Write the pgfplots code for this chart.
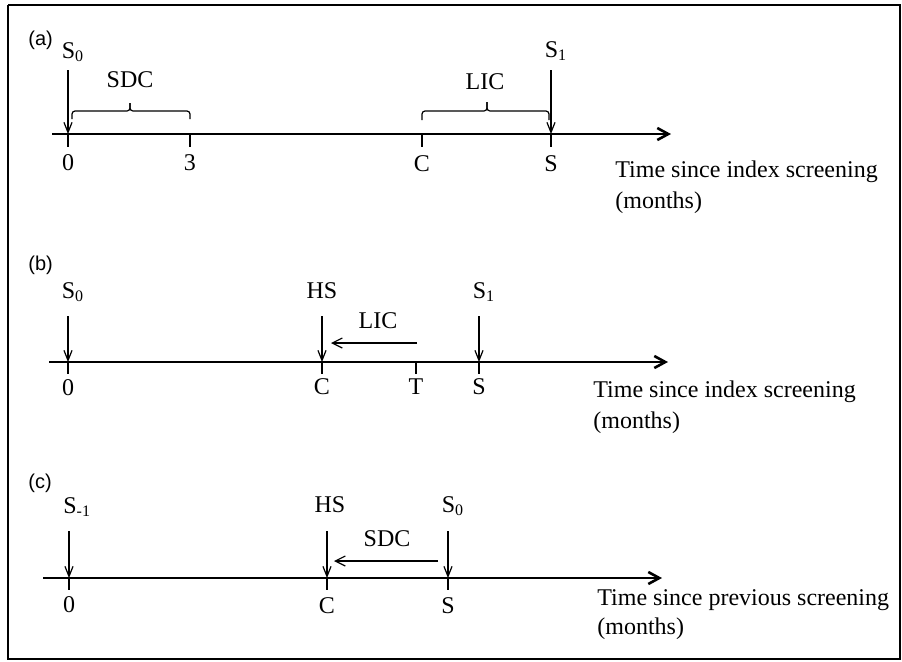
\documentclass[border=0pt]{standalone}
\usepackage{fontspec}
\setmainfont{Liberation Serif}
\newfontfamily\sansf{Liberation Sans}
\usepackage{pgfplots}
\pgfplotsset{compat=1.18}
\usetikzlibrary{arrows.meta}
\begin{document}
\begin{tikzpicture}
\begin{axis}[
  x=0.5pt, y=0.5pt, y dir=reverse,
  xmin=0, xmax=902, ymin=0, ymax=661,
  hide axis, clip=false, scale only axis,
]
\pgfplotsset{
  every axis plot/.append style={line cap=butt},
}
\tikzset{
  lab/.style={anchor=base, font=\fontsize{12}{14}\selectfont, inner sep=0pt},
  labw/.style={anchor=base west, font=\fontsize{12}{14}\selectfont, inner sep=0pt},
  pan/.style={anchor=base west, font=\sansf\fontsize{10}{12}\selectfont, inner sep=0pt},
}
% bounding box
\addplot[draw=none] coordinates {(0,0) (902,661)};
% frame
\addplot[black, line width=1.3pt] coordinates {(8,5) (900,5) (900,659) (8,659) (8,5)};

%%%%%%%% panel (a)
\addplot[black, line width=1.3pt, -{Straight Barb[length=5.5pt,width=6pt]}] coordinates {(52,134) (671,134)};
\addplot[black, line width=0.6pt, -{Straight Barb[length=5pt,width=4pt]}] coordinates {(68,70) (68,134)};
\addplot[black, line width=0.6pt, -{Straight Barb[length=5pt,width=4pt]}] coordinates {(551,70) (551,134)};
\addplot[black, line width=0.8pt] coordinates {(68,134) (68,147)};
\addplot[black, line width=0.8pt] coordinates {(190,134) (190,147)};
\addplot[black, line width=0.8pt] coordinates {(422,134) (422,147)};
\addplot[black, line width=0.8pt] coordinates {(551,134) (551,147)};
% SDC bracket
\addplot[black, line width=0.6pt, rounded corners=1.5pt] coordinates {(72,119) (72,111) (130,111) (130,103)};
\addplot[black, line width=0.6pt, rounded corners=1.5pt] coordinates {(190,119) (190,111) (130,111) (130,103)};
% LIC bracket
\addplot[black, line width=0.6pt, rounded corners=1.5pt] coordinates {(422,120) (422,111) (487,111) (487,102)};
\addplot[black, line width=0.6pt, rounded corners=1.5pt] coordinates {(549,120) (549,111) (487,111) (487,102)};
\node[pan] at (axis cs:28,45) {(a)};
\node[labw] at (axis cs:61.5,58) {S\textsubscript{0}};
\node[labw] at (axis cs:544.5,57) {S\textsubscript{1}};
\node[lab] at (axis cs:130,87) {SDC};
\node[lab] at (axis cs:485,89) {LIC};
\node[lab] at (axis cs:68,170) {0};
\node[lab] at (axis cs:190,170) {3};
\node[lab] at (axis cs:422,171) {C};
\node[lab] at (axis cs:551,171) {S};
\node[labw] at (axis cs:615,177) {Time since index screening};
\node[labw] at (axis cs:615,208) {(months)};

%%%%%%%% panel (b)
\addplot[black, line width=1.3pt, -{Straight Barb[length=5.5pt,width=6pt]}] coordinates {(49,362) (668,362)};
\addplot[black, line width=0.6pt, -{Straight Barb[length=5pt,width=4pt]}] coordinates {(68,316) (68,362)};
\addplot[black, line width=0.6pt, -{Straight Barb[length=5pt,width=4pt]}] coordinates {(322,316) (322,362)};
\addplot[black, line width=0.6pt, -{Straight Barb[length=5pt,width=4pt]}] coordinates {(479,316) (479,362)};
\addplot[black, line width=0.6pt, -{Straight Barb[length=5pt,width=5pt]}] coordinates {(417,343) (331,343)};
\addplot[black, line width=0.8pt] coordinates {(68,362) (68,374)};
\addplot[black, line width=0.8pt] coordinates {(322,362) (322,374)};
\addplot[black, line width=0.8pt] coordinates {(416,362) (416,374)};
\addplot[black, line width=0.8pt] coordinates {(479,362) (479,374)};
\node[pan] at (axis cs:28,270) {(b)};
\node[labw] at (axis cs:61.5,298) {S\textsubscript{0}};
\node[lab] at (axis cs:322,298) {HS};
\node[labw] at (axis cs:472.5,298) {S\textsubscript{1}};
\node[lab] at (axis cs:378,328) {LIC};
\node[lab] at (axis cs:68,395) {0};
\node[lab] at (axis cs:322,394) {C};
\node[lab] at (axis cs:416,394) {T};
\node[lab] at (axis cs:479,394) {S};
\node[labw] at (axis cs:593,397) {Time since index screening};
\node[labw] at (axis cs:593,428) {(months)};

%%%%%%%% panel (c)
\addplot[black, line width=1.3pt, -{Straight Barb[length=5.5pt,width=6pt]}] coordinates {(43,578) (662,578)};
\addplot[black, line width=0.6pt, -{Straight Barb[length=5pt,width=4pt]}] coordinates {(69,531) (69,578)};
\addplot[black, line width=0.6pt, -{Straight Barb[length=5pt,width=4pt]}] coordinates {(327,531) (327,578)};
\addplot[black, line width=0.6pt, -{Straight Barb[length=5pt,width=4pt]}] coordinates {(448,531) (448,578)};
\addplot[black, line width=0.6pt, -{Straight Barb[length=5pt,width=5pt]}] coordinates {(438,561) (334,561)};
\addplot[black, line width=0.8pt] coordinates {(69,578) (69,590)};
\addplot[black, line width=0.8pt] coordinates {(327,578) (327,590)};
\addplot[black, line width=0.8pt] coordinates {(448,578) (448,590)};
\node[pan] at (axis cs:28,488) {(c)};
\node[labw] at (axis cs:63,513) {S\textsubscript{-1}};
\node[lab] at (axis cs:330,512) {HS};
\node[labw] at (axis cs:441.5,512) {S\textsubscript{0}};
\node[lab] at (axis cs:387,546) {SDC};
\node[lab] at (axis cs:69,612) {0};
\node[lab] at (axis cs:327,613) {C};
\node[lab] at (axis cs:448,613) {S};
\node[labw] at (axis cs:597,605) {Time since previous screening};
\node[labw] at (axis cs:597,634) {(months)};
\end{axis}
\end{tikzpicture}
\end{document}
